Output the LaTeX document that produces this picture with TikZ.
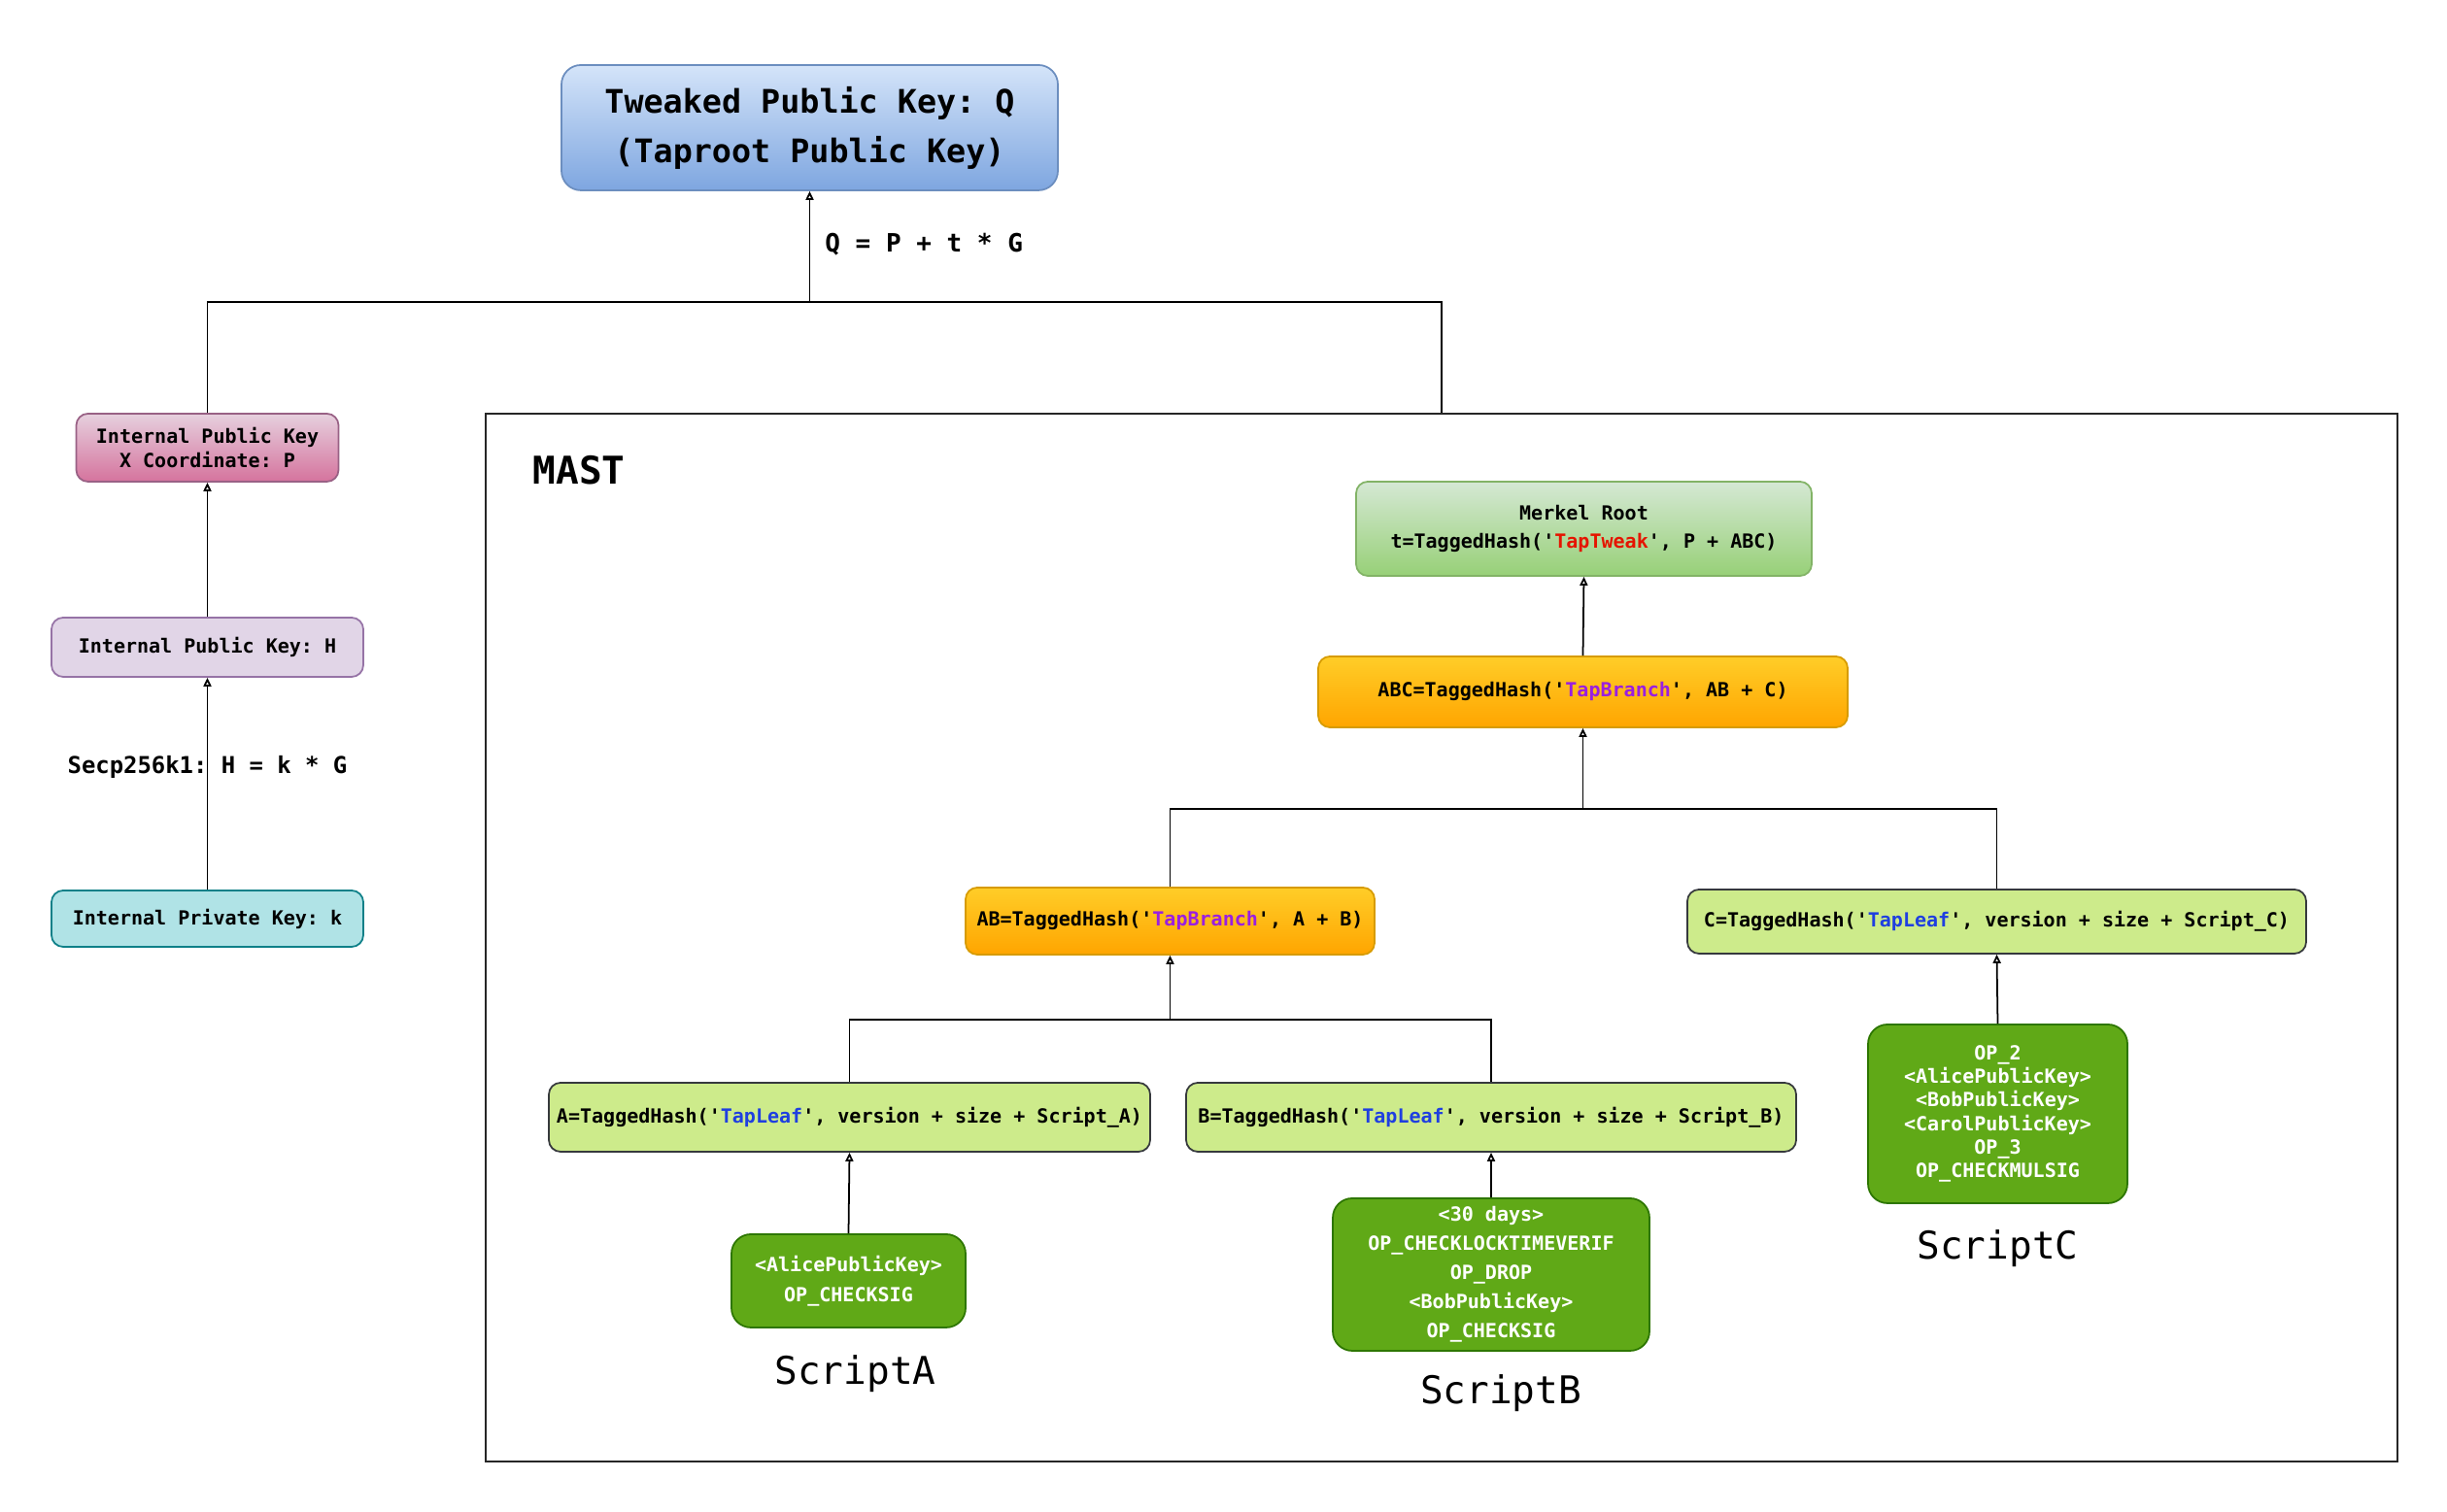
\documentclass[tikz,border=0pt]{standalone}
\usepackage{fontspec}
\setmonofont{DejaVu Sans Mono}
\usepackage{tikz}
\usetikzlibrary{positioning, arrows.meta}
\usepackage{xcolor}
\definecolor{tweakcolor}{HTML}{D4E4F9}
\definecolor{tweakshade}{HTML}{7EA6E0}
\definecolor{tweakline}{HTML}{6C8EBF}
\definecolor{xkeycolor}{HTML}{E6D0DE}
\definecolor{xkeyshade}{HTML}{D5739D}
\definecolor{xkeyline}{HTML}{996185}
\definecolor{hkeycolor}{HTML}{E1D5E7}
\definecolor{hkeyline}{HTML}{9673A6}
\definecolor{privcolor}{HTML}{B0E3E6}
\definecolor{privline}{HTML}{0E8088}
\definecolor{rootcolor}{HTML}{D5E8D4}
\definecolor{rootshade}{HTML}{97D077}
\definecolor{rootline}{HTML}{82B366}
\definecolor{branchcolor}{HTML}{FFCD28}
\definecolor{branchshade}{HTML}{FFA500}
\definecolor{branchline}{HTML}{D79B00}
\definecolor{leafcolor}{HTML}{CDEB8B}
\definecolor{leafline}{HTML}{36393D}
\definecolor{scriptcolor}{HTML}{60A917}
\definecolor{scriptline}{HTML}{2D7600}
\definecolor{tweaktag}{HTML}{E51400}
\definecolor{branchtag}{HTML}{9A1FE0}
\definecolor{leaftag}{HTML}{1F3FE0}

\begin{document}
\begin{tikzpicture}[
        box/.style={rounded corners=1.2mm, line width=0.5pt, align=center,
              inner sep=1pt, font=\ttfamily\bfseries\fontsize{5.7}{8.4}\selectfont},
        leafbox/.style={box, fill=leafcolor, draw=leafline,
              minimum height=0.71cm},
        branchbox/.style={box, top color=branchcolor, bottom color=branchshade,
              draw=branchline, minimum height=0.71cm},
        scriptbox/.style={box, fill=scriptcolor, draw=scriptline,
              rounded corners=2mm, text=white},
        scriptname/.style={inner sep=0pt, font=\ttfamily\fontsize{11.2}{13}\selectfont},
        link/.style={line width=0.5pt, -{Triangle[open, length=0.9mm, width=0.8mm]}},
        tree/.style={line width=0.5pt}]
        \useasboundingbox (0,0) rectangle (25.19,15.57);

        \node[box, top color=tweakcolor, bottom color=tweakshade, draw=tweakline,
              rounded corners=2mm, minimum width=5.11cm, minimum height=1.29cm,
              font=\ttfamily\bfseries\fontsize{9.5}{14.5}\selectfont] (tweak)
              at (8.335,14.255) {Tweaked Public Key: Q\\(Taproot Public Key)};
        \node[box, top color=xkeycolor, bottom color=xkeyshade, draw=xkeyline,
              minimum width=2.70cm, minimum height=0.70cm,
              font=\ttfamily\bfseries\fontsize{5.7}{7.3}\selectfont] (xkey)
              at (2.135,10.96) {Internal Public Key\\X Coordinate: P};
        \node[box, fill=hkeycolor, draw=hkeyline,
              minimum width=3.21cm, minimum height=0.61cm] (hkey)
              at (2.135,8.905) {Internal Public Key: H};
        \node[box, fill=privcolor, draw=privline,
              minimum width=3.21cm, minimum height=0.58cm] (privkey)
              at (2.135,6.11) {Internal Private Key: k};

        \node[draw=black!85, line width=0.5pt, minimum width=19.68cm,
              minimum height=10.79cm] (mast) at (14.84,5.915) {};
        \node[anchor=west, inner sep=0pt,
              font=\ttfamily\bfseries\fontsize{11.2}{13}\selectfont] (mastname)
              at (5.48,10.73) {MAST};

        \node[box, top color=rootcolor, bottom color=rootshade, draw=rootline,
              minimum width=4.69cm, minimum height=0.97cm,
              font=\ttfamily\bfseries\fontsize{5.7}{8.2}\selectfont] (root)
              at (16.305,10.125)
              {Merkel Root\\t=TaggedHash('\textcolor{tweaktag}{TapTweak}', P + ABC)};
        \node[branchbox, minimum width=5.45cm, minimum height=0.73cm] (abc)
              at (16.295,8.445)
              {ABC=TaggedHash('\textcolor{branchtag}{TapBranch}', AB + C)};
        \node[branchbox, minimum width=4.21cm, minimum height=0.69cm] (ab)
              at (12.045,6.085)
              {AB=TaggedHash('\textcolor{branchtag}{TapBranch}', A + B)};
        \node[leafbox, minimum width=6.37cm, minimum height=0.66cm] (c)
              at (20.555,6.08)
              {C=TaggedHash('\textcolor{leaftag}{TapLeaf}', version + size + Script\_C)};
        \node[leafbox, minimum width=6.19cm] (a)
              at (8.745,4.065)
              {A=TaggedHash('\textcolor{leaftag}{TapLeaf}', version + size + Script\_A)};
        \node[leafbox, minimum width=6.28cm] (b)
              at (15.35,4.065)
              {B=TaggedHash('\textcolor{leaftag}{TapLeaf}', version + size + Script\_B)};

        \node[scriptbox, minimum width=2.41cm, minimum height=0.96cm,
              font=\ttfamily\bfseries\fontsize{5.7}{8.7}\selectfont] (scripta)
              at (8.735,2.38) {<AlicePublicKey>\\OP\_CHECKSIG};
        \node[scriptbox, minimum width=3.26cm, minimum height=1.57cm,
              font=\ttfamily\bfseries\fontsize{5.7}{8.5}\selectfont] (scriptb)
              at (15.35,2.445)
              {<30 days>\\OP\_CHECKLOCKTIMEVERIF\\OP\_DROP\\<BobPublicKey>\\OP\_CHECKSIG};
        \node[scriptbox, minimum width=2.67cm, minimum height=1.84cm,
              font=\ttfamily\bfseries\fontsize{5.7}{6.9}\selectfont] (scriptc)
              at (20.565,4.10)
              {OP\_2\\<AlicePublicKey>\\<BobPublicKey>\\<CarolPublicKey>\\OP\_3\\OP\_CHECKMULSIG};
        \node[scriptname, below=0.27cm of scripta, xshift=0.07cm] (scriptaname) {ScriptA};
        \node[scriptname, below=0.23cm of scriptb, xshift=0.1cm] (scriptbname) {ScriptB};
        \node[scriptname, below=0.26cm of scriptc] (scriptcname) {ScriptC};

        \coordinate[below=1.14cm of tweak.south] (topsplit);
        \coordinate[below=0.83cm of abc.south] (abcsplit);
        \coordinate[below=0.66cm of ab.south] (absplit);

        \draw[link] (topsplit) -- (tweak.south)
              node[pos=0.52, right=1.5mm, inner sep=0pt,
                   font=\ttfamily\bfseries\fontsize{7.4}{9}\selectfont] {Q = P + t * G};
        \draw[tree] (xkey.north) |- (topsplit) -| (mast.north);
        \draw[link] (hkey.north) -- (xkey.south);
        \draw[link] (privkey.north) -- (hkey.south)
              node[pos=0.58, inner sep=0pt,
                   font=\ttfamily\bfseries\fontsize{6.8}{8}\selectfont] {Secp256k1: H = k * G};

        \draw[link] (abc.north) -- (root.south);
        \draw[link] (abcsplit) -- (abc.south);
        \draw[tree] (ab.north) |- (abcsplit) -| (c.north);
        \draw[link] (absplit) -- (ab.south);
        \draw[tree] (a.north) |- (absplit) -| (b.north);
        \draw[link] (scripta.north) -- (a.south);
        \draw[link] (scriptb.north) -- (b.south);
        \draw[link] (scriptc.north) -- (c.south);
      \end{tikzpicture}
\end{document}
